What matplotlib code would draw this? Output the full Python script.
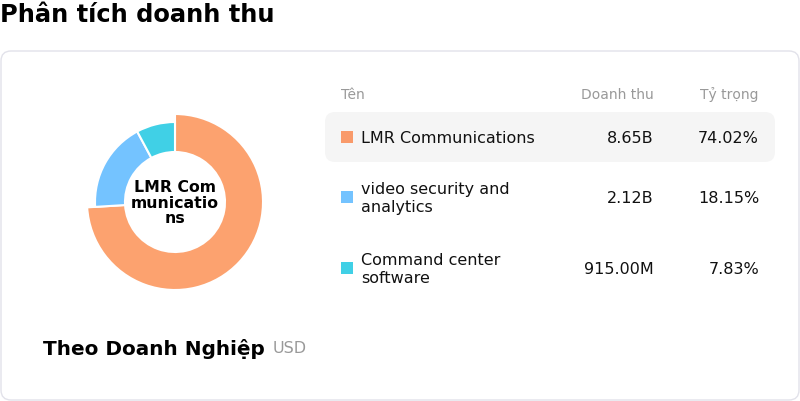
import matplotlib
matplotlib.use('Agg')
import matplotlib.pyplot as plt
from matplotlib.patches import FancyBboxPatch, Rectangle

plt.rcParams['font.family'] = ['DejaVu Sans']

# dữ liệu
names = ['LMR Communications', 'video security and\nanalytics', 'Command center\nsoftware']
revenue = [8.65e9, 2.12e9, 915.00e6]
revenue_labels = ['8.65B', '2.12B', '915.00M']
share_labels = ['74.02%', '18.15%', '7.83%']
colors = ['#FCA26F', '#74C3FF', '#40D0E6']
legend_colors = ['#F99A6A', '#74C3FF', '#40D0E6']
center_label = 'LMR Com\nmunicatio\nns'

W, H = 800, 402
fig = plt.figure(figsize=(W / 100, H / 100), dpi=100)

# nền: toạ độ pixel
bg = fig.add_axes([0, 0, 1, 1])
bg.set_xlim(0, W)
bg.set_ylim(H, 0)
bg.axis('off')

bg.text(0, 15, 'Phân tích doanh thu', fontsize=17.4, fontweight='bold',
        va='center', ha='left', color='black')

card = FancyBboxPatch((9, 60), 782, 333, boxstyle='round,pad=8,rounding_size=10',
                      facecolor='white', edgecolor='#E2E2EA', linewidth=1)
bg.add_patch(card)

# bảng
bg.text(341, 95, 'Tên', fontsize=10, color='#999999', va='center', ha='left')
bg.text(654, 95, 'Doanh thu', fontsize=10, color='#999999', va='center', ha='right')
bg.text(759, 95, 'Tỷ trọng', fontsize=10, color='#999999', va='center', ha='right')

row_y = [138, 198, 269]
hl = FancyBboxPatch((333, 121), 434, 34, boxstyle='round,pad=8,rounding_size=10',
                    facecolor='#F5F5F5', edgecolor='none')
bg.add_patch(hl)

for i, y in enumerate(row_y):
    bg.add_patch(Rectangle((341, y - 6), 12, 12, facecolor=legend_colors[i], edgecolor='none'))
    bg.text(361, y + 0.5, names[i], fontsize=11.5, va='center', ha='left', color='#111111',
            linespacing=1.3)
    bg.text(654, y + 0.5, revenue_labels[i], fontsize=11.5, va='center', ha='right', color='#111111')
    bg.text(759, y + 0.5, share_labels[i], fontsize=11.5, va='center', ha='right', color='#111111')

bg.text(43, 349, 'Theo Doanh Nghiệp', fontsize=14.4, fontweight='bold',
        va='center', ha='left', color='black')
bg.text(273, 349, 'USD', fontsize=11.5, color='#999999', va='center', ha='left')

# donut
cx, cy, half = 175, 203, 100
ax = fig.add_axes([(cx - half) / W, (H - cy - half) / H, 2 * half / W, 2 * half / H])
wedges, _ = ax.pie(revenue, colors=colors, startangle=90, counterclock=False,
                   radius=80, wedgeprops=dict(width=30, edgecolor='white', linewidth=1.5))
wedges[0].set_radius(88)
wedges[0].set_width(38)
ax.set_xlim(-half, half)
ax.set_ylim(-half, half)
ax.set_aspect('equal')
ax.axis('off')
ax.text(0, 0, center_label, fontsize=11.3, fontweight='bold', ha='center', va='center',
        linespacing=1.05)

fig.savefig('out.png', dpi=100)
